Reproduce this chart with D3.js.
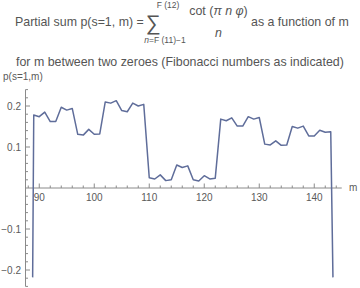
<!DOCTYPE html>
<html>
<head>
<meta charset="utf-8">
<script src="https://cdn.jsdelivr.net/npm/d3@7"></script>
<style>
  body { margin: 0; background: #fff; }
  text { font-family: "Liberation Sans", Arial, sans-serif; }
</style>
</head>
<body>
<div id="chart"></div>
<script>
// partial sums, one per m, starting at m = 89
var mFirst = 89;
var pValues = [
  0.178, 0.174, 0.185, 0.162, 0.162, 0.197, 0.190, 0.194, 0.131, 0.129,
  0.143, 0.131, 0.132, 0.210, 0.207, 0.213, 0.189, 0.186, 0.207, 0.200,
  0.204, 0.025, 0.022, 0.032, 0.018, 0.020, 0.056, 0.050, 0.054, 0.020,
  0.017, 0.030, 0.022, 0.024, 0.168, 0.164, 0.171, 0.151, 0.151, 0.174,
  0.168, 0.172, 0.107, 0.105, 0.115, 0.104, 0.105, 0.150, 0.146, 0.151,
  0.127, 0.127, 0.141, 0.136, 0.137
];
// the two drops at the zeroes
var edgeM = [88.8, 143.4];
var edgeP = [-0.218, -0.218];

var xTickLabels = [90, 100, 110, 120, 130, 140];
var yTickLabels = [-0.2, -0.1, 0.1, 0.2];

var w = 360, h = 288;
var svg = d3.select('#chart').append('svg')
  .attr('width', w).attr('height', h);

var x = d3.scaleLinear().domain([87.5, 145]).range([25.5, 341.75]);
var y = d3.scaleLinear().domain([-0.24, 0.24]).range([286.4, 89.6]);

// build the point list
var pts = [[edgeM[0], edgeP[0]]];
pValues.forEach(function(p, i){ pts.push([mFirst + i, p]); });
pts.push([edgeM[1], edgeP[1]]);

var axisColor = '#8a8a8a';
var labelColor = '#5a5a5a';

// x axis
svg.append('line')
  .attr('x1', x(87.5)).attr('x2', x(145))
  .attr('y1', y(0)).attr('y2', y(0))
  .attr('stroke', axisColor).attr('stroke-width', 1);

var xMinor = d3.range(88, 145, 2).filter(function(d){ return d % 10 != 0; });
svg.selectAll('.xminor').data(xMinor).enter().append('line')
  .attr('x1', function(d){ return x(d); }).attr('x2', function(d){ return x(d); })
  .attr('y1', y(0)).attr('y2', y(0) - 2.5)
  .attr('stroke', axisColor);
svg.selectAll('.xmajor').data(xTickLabels).enter().append('line')
  .attr('x1', function(d){ return x(d); }).attr('x2', function(d){ return x(d); })
  .attr('y1', y(0)).attr('y2', y(0) - 4.5)
  .attr('stroke', axisColor);
svg.selectAll('.xlab').data(xTickLabels).enter().append('text')
  .attr('x', function(d){ return x(d); })
  .attr('y', y(0) + 13)
  .attr('text-anchor', 'middle')
  .attr('font-size', '10px')
  .attr('fill', labelColor)
  .text(function(d){ return d; });
svg.append('text')
  .attr('x', 349).attr('y', y(0) + 3)
  .attr('font-size', '10px').attr('fill', labelColor)
  .text('m');

// y axis
svg.append('line')
  .attr('x1', x(87.5)).attr('x2', x(87.5))
  .attr('y1', y(0.24)).attr('y2', y(-0.24))
  .attr('stroke', axisColor).attr('stroke-width', 1);

var yMinor = d3.range(-12, 13).map(function(k){ return k * 0.02; })
  .filter(function(d){ return Math.abs(Math.round(d * 100)) % 10 != 0; });
svg.selectAll('.yminor').data(yMinor).enter().append('line')
  .attr('x1', x(87.5)).attr('x2', x(87.5) + 2.5)
  .attr('y1', function(d){ return y(d); }).attr('y2', function(d){ return y(d); })
  .attr('stroke', axisColor);
svg.selectAll('.ymajor').data(yTickLabels).enter().append('line')
  .attr('x1', x(87.5)).attr('x2', x(87.5) + 4.5)
  .attr('y1', function(d){ return y(d); }).attr('y2', function(d){ return y(d); })
  .attr('stroke', axisColor);
svg.selectAll('.ylab').data(yTickLabels).enter().append('text')
  .attr('x', 21)
  .attr('y', function(d){ return y(d) + 3.5; })
  .attr('text-anchor', 'end')
  .attr('font-size', '10px')
  .attr('fill', labelColor)
  .text(function(d){ return d3.format('.1f')(d).replace('-', '\u2212'); });
svg.append('text')
  .attr('x', 3).attr('y', 80)
  .attr('font-size', '10px').attr('fill', labelColor)
  .text('p(s=1,m)');

// the curve
var line = d3.line()
  .x(function(d){ return x(d[0]); })
  .y(function(d){ return y(d[1]); });
svg.append('path')
  .datum(pts)
  .attr('d', line)
  .attr('fill', 'none')
  .attr('stroke', '#5f6d9a')
  .attr('stroke-width', 1.5)
  .attr('stroke-linejoin', 'round');

// title, first line with the sum
var tc = '#555';
var fs = '12.4px';
function txt(xp, yp, size, s, opts){
  var t = svg.append('text').attr('x', xp).attr('y', yp)
    .attr('font-size', size).attr('fill', tc).text(s);
  if (opts && opts.anchor) t.attr('text-anchor', opts.anchor);
  if (opts && opts.italic) t.attr('font-style', 'italic');
  return t;
}
txt(15, 26, fs, 'Partial sum p(s=1, m) =');
txt(153, 30, '21px', '\u2211', {anchor: 'middle'});
txt(168, 8, '8.5px', 'F (12)', {anchor: 'middle'});
var low = svg.append('text').attr('x', 165).attr('y', 43)
  .attr('font-size', '8.5px').attr('fill', tc).attr('text-anchor', 'middle');
low.append('tspan').attr('font-style', 'italic').text('n');
low.append('tspan').text('=F (11)\u22121');
var num = svg.append('text').attr('x', 218.5).attr('y', 15)
  .attr('font-size', fs).attr('fill', tc).attr('text-anchor', 'middle');
num.append('tspan').text('cot (');
num.append('tspan').attr('font-style', 'italic').text('\u03c0 n \u03c6');
num.append('tspan').text(')');
txt(218.5, 37, fs, 'n', {anchor: 'middle', italic: true});
txt(251, 26, fs, 'as a function of m');

txt(16, 66, fs, 'for m between two zeroes (Fibonacci numbers as indicated)');
</script>
</body>
</html>
